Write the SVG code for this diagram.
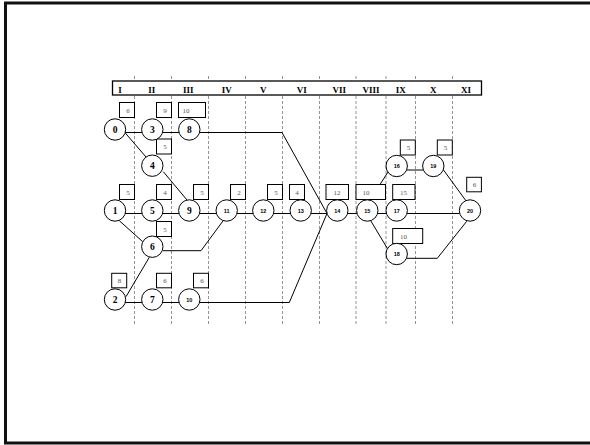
<svg xmlns="http://www.w3.org/2000/svg" width="590" height="445" viewBox="0 0 590 445">
<style>
.grid{stroke:#777;stroke-width:0.8;stroke-dasharray:3,2;fill:none}
.hdr{font-family:"Liberation Serif",serif;font-weight:bold;font-size:9px;text-anchor:middle;fill:#000}
.c{fill:#fff;stroke:#000;stroke-width:1}
.n1{font-family:"Liberation Serif",serif;font-weight:bold;font-size:9.5px;text-anchor:middle;fill:#000}
.n2{font-family:"Liberation Sans",sans-serif;font-weight:bold;font-size:5.5px;text-anchor:middle;fill:#000}
.b{fill:#fff;stroke:#000;stroke-width:1}
.bt{font-family:"Liberation Serif",serif;font-size:7px;fill:#555;text-anchor:middle}
.ln{stroke:#000;stroke-width:1;fill:none}
</style>
<rect x="5.5" y="3" width="590" height="440" fill="#fff" stroke="#111" stroke-width="3"/>
<g id="grid">
<line class="grid" x1="134.5" y1="76" x2="134.5" y2="325"/>
<line class="grid" x1="171.5" y1="76" x2="171.5" y2="325"/>
<line class="grid" x1="208.5" y1="76" x2="208.5" y2="325"/>
<line class="grid" x1="245.5" y1="76" x2="245.5" y2="325"/>
<line class="grid" x1="282.5" y1="76" x2="282.5" y2="325"/>
<line class="grid" x1="319.5" y1="76" x2="319.5" y2="325"/>
<line class="grid" x1="356" y1="76" x2="356" y2="325"/>
<line class="grid" x1="386" y1="76" x2="386" y2="325"/>
<line class="grid" x1="415.5" y1="76" x2="415.5" y2="325"/>
<line class="grid" x1="452.5" y1="76" x2="452.5" y2="325"/>
</g>
<g id="header">
<rect x="112.5" y="81" width="369" height="14" fill="#fff" stroke="#000" stroke-width="1.3"/>
<text class="hdr" x="120" y="92.5">I</text>
<text class="hdr" x="151.7" y="92.5">II</text>
<text class="hdr" x="188.3" y="92.5">III</text>
<text class="hdr" x="226.7" y="92.5">IV</text>
<text class="hdr" x="263.3" y="92.5">V</text>
<text class="hdr" x="301.7" y="92.5">VI</text>
<text class="hdr" x="339.3" y="92.5">VII</text>
<text class="hdr" x="371" y="92.5">VIII</text>
<text class="hdr" x="400.7" y="92.5">IX</text>
<text class="hdr" x="433.3" y="92.5">X</text>
<text class="hdr" x="466" y="92.5">XI</text>
</g>
<g id="connectors">
<line class="ln" x1="125" y1="132.5" x2="142" y2="132.5"/>
<line class="ln" x1="162" y1="132.5" x2="179" y2="132.5"/>
<polyline class="ln" points="199.5,132.5 282,132.5 327,213.5"/>
<line class="ln" x1="124" y1="131.5" x2="146" y2="157"/>
<line class="ln" x1="163.3" y1="171.7" x2="187" y2="200"/>
<line class="ln" x1="125" y1="213.5" x2="142" y2="213.5"/>
<line class="ln" x1="162" y1="213.5" x2="179" y2="213.5"/>
<line class="ln" x1="199.5" y1="213.5" x2="216" y2="213.5"/>
<line class="ln" x1="237" y1="213.5" x2="253" y2="213.5"/>
<line class="ln" x1="273.5" y1="213.5" x2="290.5" y2="213.5"/>
<line class="ln" x1="311" y1="213.5" x2="327" y2="213.5"/>
<line class="ln" x1="347.5" y1="213.5" x2="357" y2="213.5"/>
<line class="ln" x1="377.5" y1="213.5" x2="386.5" y2="213.5"/>
<line class="ln" x1="407" y1="213.5" x2="459.7" y2="213.5"/>
<line class="ln" x1="119.3" y1="220.7" x2="142.7" y2="241.7"/>
<polyline class="ln" points="163,250.7 201,250.7 223.3,220.5"/>
<line class="ln" x1="126" y1="296.7" x2="149.3" y2="257.3"/>
<line class="ln" x1="125" y1="302.5" x2="142" y2="302.5"/>
<line class="ln" x1="162" y1="302.5" x2="179" y2="302.5"/>
<polyline class="ln" points="199.5,302.5 289.3,302.5 327,213.5"/>
<line class="ln" x1="370.7" y1="199" x2="388" y2="172"/>
<line class="ln" x1="407" y1="170" x2="423" y2="170"/>
<line class="ln" x1="443.5" y1="170" x2="466.5" y2="201.5"/>
<line class="ln" x1="370.7" y1="220.7" x2="387.3" y2="248.3"/>
<polyline class="ln" points="407,258.3 437.3,258.3 466.7,221.3"/>
</g>
<g id="boxes">
<rect class="b" x="119.5" y="102.5" width="15" height="15"/><text class="bt" x="128" y="112.5">6</text>
<rect class="b" x="156.5" y="102.5" width="15" height="15"/><text class="bt" x="165" y="112.5">9</text>
<rect class="b" x="178.5" y="102.5" width="27" height="15"/><text class="bt" x="186" y="112.5">10</text>
<rect class="b" x="156.5" y="139" width="15" height="15"/><text class="bt" x="165" y="149">5</text>
<rect class="b" x="119.5" y="184.5" width="15" height="15"/><text class="bt" x="128" y="194.5">5</text>
<rect class="b" x="156.5" y="184.5" width="15" height="15"/><text class="bt" x="165" y="194.5">4</text>
<rect class="b" x="193.5" y="184.5" width="15" height="15"/><text class="bt" x="202" y="194.5">5</text>
<rect class="b" x="230.5" y="184.5" width="15" height="15"/><text class="bt" x="239" y="194.5">2</text>
<rect class="b" x="267.5" y="184.5" width="15" height="15"/><text class="bt" x="276" y="194.5">5</text>
<rect class="b" x="289.5" y="184.5" width="15" height="15"/><text class="bt" x="297" y="194.5">4</text>
<rect class="b" x="326" y="184.5" width="22.5" height="15"/><text class="bt" x="337" y="194.5">12</text>
<rect class="b" x="356" y="184.5" width="29.5" height="15"/><text class="bt" x="366" y="194.5">10</text>
<rect class="b" x="392.7" y="184.5" width="22.3" height="15"/><text class="bt" x="403.5" y="194.5">15</text>
<rect class="b" x="156.5" y="221.5" width="15" height="15"/><text class="bt" x="165" y="231.5">5</text>
<rect class="b" x="392.7" y="228.5" width="30" height="15"/><text class="bt" x="403.5" y="238.5">10</text>
<rect class="b" x="400.3" y="140" width="15" height="15"/><text class="bt" x="408.5" y="150">5</text>
<rect class="b" x="437.3" y="140" width="15" height="15"/><text class="bt" x="445.5" y="150">5</text>
<rect class="b" x="466.7" y="177.3" width="14.7" height="14.5"/><text class="bt" x="474.5" y="187">6</text>
<rect class="b" x="111.7" y="273.3" width="15" height="14.5"/><text class="bt" x="119.5" y="283">8</text>
<rect class="b" x="156.5" y="273.3" width="15" height="14.5"/><text class="bt" x="165" y="283">6</text>
<rect class="b" x="193.5" y="273.3" width="15" height="14.5"/><text class="bt" x="202" y="283">6</text>
</g>
<g id="node0"><circle class="c" cx="115" cy="129.5" r="10.7"/><text class="n1" x="115" y="132.8">0</text></g>
<g id="node3"><circle class="c" cx="152.3" cy="129.5" r="10.7"/><text class="n1" x="152.3" y="132.8">3</text></g>
<g id="node8"><circle class="c" cx="189.3" cy="129.5" r="10.7"/><text class="n1" x="189.3" y="132.8">8</text></g>
<g id="node4"><circle class="c" cx="152.3" cy="165.7" r="10.7"/><text class="n1" x="152.3" y="169">4</text></g>
<g id="node1"><circle class="c" cx="115" cy="210.5" r="10.7"/><text class="n1" x="115" y="213.8">1</text></g>
<g id="node5"><circle class="c" cx="152.3" cy="210.5" r="10.7"/><text class="n1" x="152.3" y="213.8">5</text></g>
<g id="node9"><circle class="c" cx="189.3" cy="210.5" r="10.7"/><text class="n1" x="189.3" y="213.8">9</text></g>
<g id="node11"><circle class="c" cx="226.7" cy="210.5" r="10.7"/><text class="n2" x="226.7" y="212.5">11</text></g>
<g id="node12"><circle class="c" cx="263.3" cy="210.5" r="10.7"/><text class="n2" x="263.3" y="212.5">12</text></g>
<g id="node13"><circle class="c" cx="300.7" cy="210.5" r="10.7"/><text class="n2" x="300.7" y="212.5">13</text></g>
<g id="node14"><circle class="c" cx="337.3" cy="210.5" r="10.7"/><text class="n2" x="337.3" y="212.5">14</text></g>
<g id="node15"><circle class="c" cx="367.3" cy="210.5" r="10.7"/><text class="n2" x="367.3" y="212.5">15</text></g>
<g id="node17"><circle class="c" cx="396.7" cy="210.5" r="10.7"/><text class="n2" x="396.7" y="212.5">17</text></g>
<g id="node20"><circle class="c" cx="470" cy="210.5" r="10.7"/><text class="n2" x="470" y="212.5">20</text></g>
<g id="node6"><circle class="c" cx="152.3" cy="246.7" r="10.7"/><text class="n1" x="152.3" y="250">6</text></g>
<g id="node2"><circle class="c" cx="115" cy="299.5" r="10.7"/><text class="n1" x="115" y="302.8">2</text></g>
<g id="node7"><circle class="c" cx="152.3" cy="299.5" r="10.7"/><text class="n1" x="152.3" y="302.8">7</text></g>
<g id="node10"><circle class="c" cx="189.3" cy="299.5" r="10.7"/><text class="n2" x="189.3" y="301.5">10</text></g>
<g id="node16"><circle class="c" cx="396.7" cy="166" r="10.7"/><text class="n2" x="396.7" y="168">16</text></g>
<g id="node19"><circle class="c" cx="433.3" cy="166" r="10.7"/><text class="n2" x="433.3" y="168">19</text></g>
<g id="node18"><circle class="c" cx="396.7" cy="254" r="10.7"/><text class="n2" x="396.7" y="256">18</text></g>
</svg>
